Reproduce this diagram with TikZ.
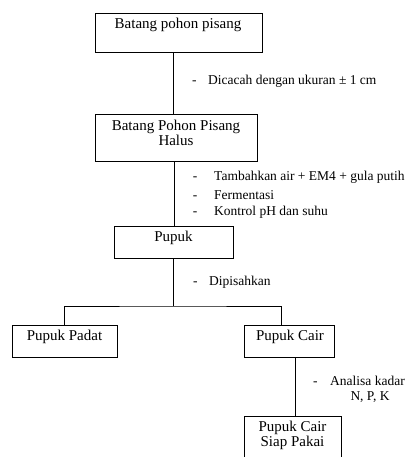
\documentclass[tikz,border=0pt]{standalone}
\usepackage{fontspec}
\setmainfont{Liberation Serif}

\tikzset{
  box/.style={draw, line width=0.8pt, inner sep=0pt, anchor=north west},
  boxtext/.style={inner sep=0pt, anchor=base, font=\fontsize{15}{15}\selectfont},
  steptext/.style={inner sep=0pt, anchor=base west, font=\fontsize{13.5}{17}\selectfont},
  link/.style={line width=0.8pt}
}

\begin{document}
\begin{tikzpicture}[x=1pt,y=1pt,yscale=-1,xscale=1]
\useasboundingbox (0,0) rectangle (409,457);

% Boxes
\node [box, minimum width=167pt, minimum height=39.6pt] (batang) at (94.7,12.7) {};
\node [box, minimum width=162.3pt, minimum height=46.8pt] (halus) at (94.7,114.5) {};
\node [box, minimum width=118.4pt, minimum height=32.3pt] (pupuk) at (114.3,226) {};
\node [box, minimum width=105.6pt, minimum height=32.3pt] (padat) at (11.7,325) {};
\node [box, minimum width=90pt, minimum height=32.3pt] (cair) at (244,325) {};
\node [box, minimum width=97pt, minimum height=50pt] (siap) at (244,416) {};

% Box texts
\node [boxtext] (tbatang) at (178,28.3) {Batang pohon pisang};
\node [boxtext] (thalus1) at (176,130.7) {Batang Pohon Pisang};
\node [boxtext] (thalus2) at (176,146) {Halus};
\node [boxtext] (tpupuk) at (173.5,241.5) {Pupuk};
\node [boxtext] (tpadat) at (64.5,340.5) {Pupuk Padat};
\node [boxtext] (tcair) at (290,340.5) {Pupuk Cair};
\node [boxtext] (tsiap1) at (292.5,431.7) {Pupuk Cair};
\node [boxtext] (tsiap2) at (292.5,446.7) {Siap Pakai};

% Connectors
\coordinate (split) at (173,306);
\draw [link] (batang.south -| 173.7,0) -- (halus.north -| 173.7,0);
\draw [link] (halus.south -| 174,0) -- (pupuk.north -| 174,0);
\draw [link] (pupuk.south -| split) -- (split);
\draw [link] (padat.north -| 64.3,0) |- (split) -| (cair.north -| 281.7,0);
\draw [link] (cair.south -| 295,0) -- (siap.north -| 295,0);

% Step labels
\node [steptext] (s1) at (192,84.5) {\makebox[16pt][l]{-}Dicacah dengan ukuran ± 1 cm};
\node [steptext] (s2) at (192.7,180.7) {\makebox[21.3pt][l]{-}Tambahkan air + EM4 + gula putih};
\node [steptext] (s3) at (192.7,199) {\makebox[21.3pt][l]{-}Fermentasi};
\node [steptext] (s4) at (192.7,215.7) {\makebox[21.3pt][l]{-}Kontrol pH dan suhu};
\node [steptext] (s5) at (193,285.7) {\makebox[16pt][l]{-}Dipisahkan};
\node [steptext] (s6) at (313,385.7) {\makebox[17pt][l]{-}Analisa kadar};
\node [steptext, anchor=base] (s7) at (370,400.7) {N, P, K};

\end{tikzpicture}
\end{document}
